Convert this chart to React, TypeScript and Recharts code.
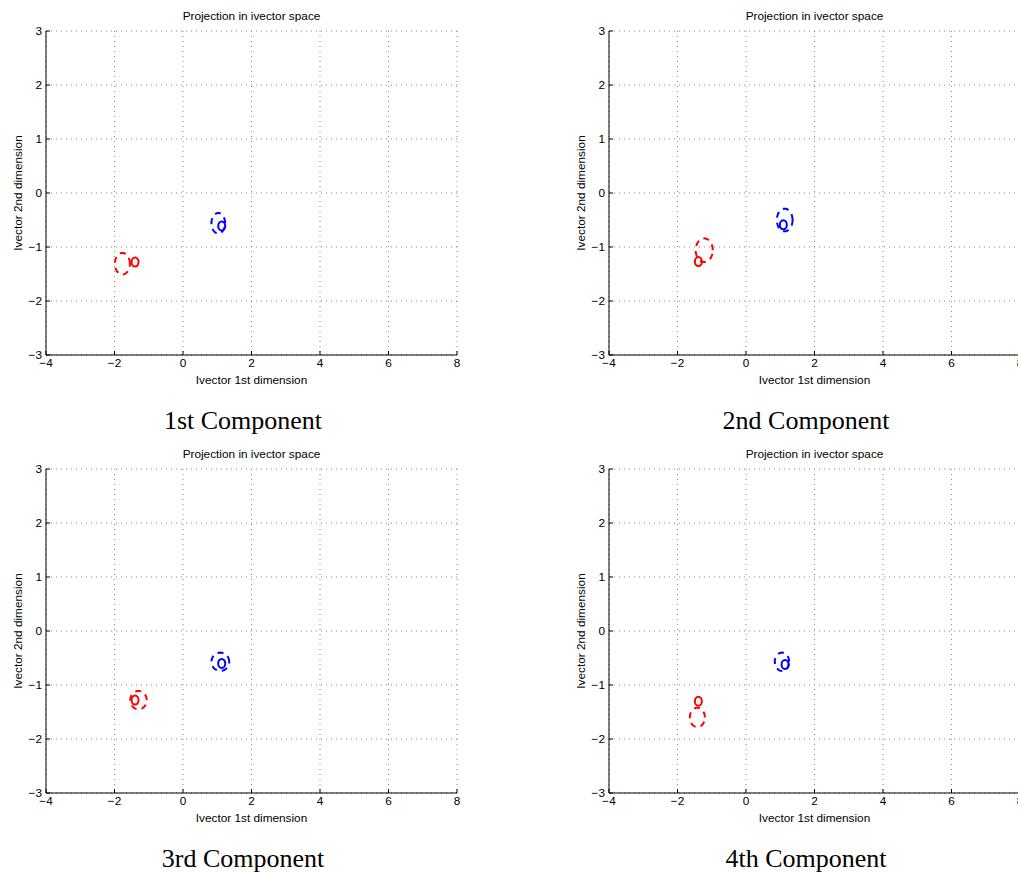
import React from 'react';
import {
  ScatterChart,
  Scatter,
  XAxis,
  YAxis,
  CartesianGrid,
} from 'recharts';

const components = ['1st Component', '2nd Component', '3rd Component', '4th Component'];
const xTicks = [-4, -2, 0, 2, 4, 6, 8];
const yTicks = [-3, -2, -1, 0, 1, 2, 3];

// class means ('o' markers), one per component
const redMeans = [[-1.40, -1.28], [-1.39, -1.27], [-1.40, -1.28], [-1.39, -1.30]];
const blueMeans = [[1.13, -0.61], [1.09, -0.59], [1.13, -0.60], [1.14, -0.62]];

// dashed covariance ellipses: centre and half-widths in data units
const redEllipseCenters = [[-1.77, -1.31], [-1.22, -1.06], [-1.30, -1.28], [-1.42, -1.60]];
const redEllipseRadii = [[0.22, 0.20], [0.25, 0.22], [0.24, 0.17], [0.22, 0.18]];
const blueEllipseCenters = [[1.03, -0.56], [1.13, -0.50], [1.09, -0.57], [1.05, -0.57]];
const blueEllipseRadii = [[0.20, 0.19], [0.23, 0.21], [0.26, 0.17], [0.21, 0.17]];

const RED = '#ff0000';
const BLUE = '#0000ff';
const SANS = '"Liberation Sans", Arial, sans-serif';
const FS = 11.8;

const fmt = (v: number) => (v < 0 ? '\u2212' + Math.abs(v) : String(v));

const outline = (c: number[], r: number[]) => {
  const pts = [];
  for (let i = 0; i <= 48; i++) {
    const t = (i / 48) * Math.PI * 2;
    pts.push({ x: c[0] + r[0] * Math.cos(t), y: c[1] + r[1] * Math.sin(t) });
  }
  return pts;
};

const Ring = (color: string) => (props: any) => (
  <ellipse cx={props.cx} cy={props.cy} rx={3.5} ry={4.5} fill="none" stroke={color} strokeWidth={2} />
);
const Nothing = () => <g />;

const Panel: React.FC<{ idx: number; left: number; top: number }> = ({ idx, left, top }) => {
  const red = [{ x: redMeans[idx][0], y: redMeans[idx][1] }];
  const blue = [{ x: blueMeans[idx][0], y: blueMeans[idx][1] }];
  return (
    <div style={{ position: 'absolute', left, top, width: 470, height: 436 }}>
      <div
        style={{
          position: 'absolute', left: 46, top: 9, width: 411, textAlign: 'center',
          fontFamily: SANS, fontSize: FS, lineHeight: '14px', color: '#000',
        }}
      >
        Projection in ivector space
      </div>
      <ScatterChart width={470} height={386} margin={{ top: 31, right: 13, bottom: 0, left: 16 }}>
        <CartesianGrid stroke="#888" strokeDasharray="1 4" />
        <XAxis
          type="number"
          dataKey="x"
          domain={[-4, 8]}
          ticks={xTicks}
          allowDataOverflow
          height={31}
          stroke="#000"
          tickSize={-4}
          tickMargin={8}
          tickFormatter={fmt}
          tick={{ fill: '#000', fontSize: FS, fontFamily: SANS }}
          label={{ value: 'Ivector 1st dimension', position: 'insideBottom', offset: 2, fill: '#000', fontSize: FS, fontFamily: SANS }}
        />
        <YAxis
          type="number"
          dataKey="y"
          domain={[-3, 3]}
          ticks={yTicks}
          allowDataOverflow
          width={30}
          stroke="#000"
          tickSize={-4}
          tickMargin={8}
          tickFormatter={fmt}
          tick={{ fill: '#000', fontSize: FS, fontFamily: SANS }}
          label={{
            value: 'Ivector 2nd dimension', angle: -90, position: 'insideLeft', offset: 2,
            fill: '#000', fontSize: FS, fontFamily: SANS, style: { textAnchor: 'middle' },
          }}
        />
        <Scatter
          data={outline(redEllipseCenters[idx], redEllipseRadii[idx])}
          line={{ stroke: RED, strokeWidth: 2, strokeDasharray: '6 5' }}
          shape={Nothing}
          isAnimationActive={false}
        />
        <Scatter
          data={outline(blueEllipseCenters[idx], blueEllipseRadii[idx])}
          line={{ stroke: BLUE, strokeWidth: 2, strokeDasharray: '6 5' }}
          shape={Nothing}
          isAnimationActive={false}
        />
        <Scatter data={red} shape={Ring(RED)} isAnimationActive={false} />
        <Scatter data={blue} shape={Ring(BLUE)} isAnimationActive={false} />
      </ScatterChart>
      <div
        style={{
          position: 'absolute', left: 0, top: 406, width: 486, textAlign: 'center',
          fontFamily: '"Liberation Serif", "Times New Roman", serif', fontSize: 26, lineHeight: '30px', color: '#000',
        }}
      >
        {components[idx]}
      </div>
    </div>
  );
};

export default function App() {
  return (
    <div style={{ position: 'absolute', left: 0, top: 0, width: 1018, height: 872, overflow: 'hidden', background: '#fff' }}>
      <Panel idx={0} left={0} top={0} />
      <Panel idx={1} left={563} top={0} />
      <Panel idx={2} left={0} top={438} />
      <Panel idx={3} left={563} top={438} />
    </div>
  );
}
